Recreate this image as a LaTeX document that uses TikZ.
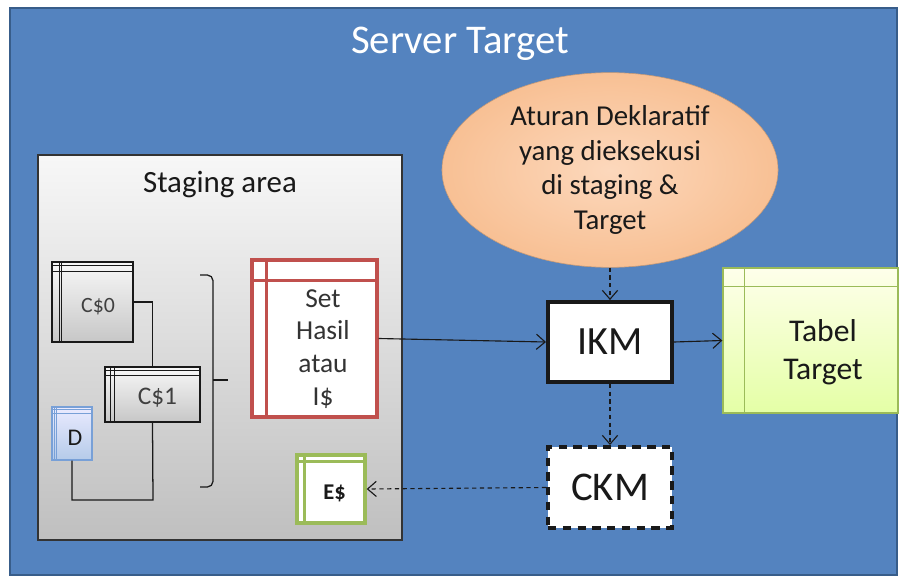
\documentclass[tikz,border=0pt]{standalone}
\usepackage{fontspec}
\setmainfont{Carlito}
\usetikzlibrary{arrows.meta, shapes.geometric, calc}

\definecolor{latarbiru}{RGB}{84,131,191}
\definecolor{tepibiru}{RGB}{56,93,138}
\definecolor{merah}{RGB}{192,80,77}
\definecolor{hijau}{RGB}{155,187,89}
\definecolor{birutepi}{RGB}{120,160,215}
\definecolor{persik}{RGB}{252,216,188}
\definecolor{persiktua}{RGB}{248,192,148}
\definecolor{tinta}{RGB}{25,25,25}

\tikzset{
  pijl/.style={-{Straight Barb[length=2.2mm, width=3.8mm]}, line width=0.8pt, draw=tinta},
  putus/.style={pijl, dash pattern=on 3pt off 2.5pt},
  tabelabu/.style={draw=tinta, line width=0.9pt, top color=black!3, bottom color=black!22},
  huruf/.style 2 args={font=\fontsize{#1}{#2}\selectfont, text=tinta, align=center}
}

% header row and header column of a table node
\newcommand{\kepala}[5]{%
  \draw[#4, line width=#5] ($(#1.north west)+(0,#2)$) -- ($(#1.north east)+(0,#2)$);
  \draw[#4, line width=#5] ($(#1.north west)+(#3,0)$) -- ($(#1.south west)+(#3,0)$);
}

\begin{document}
\begin{tikzpicture}[x=0.025cm, y=-0.025cm]
    \useasboundingbox (0,0) rectangle (900,578);
    \fill[white] (0,0) rectangle (900,578);

    % Blue server area
    \draw[tepibiru, fill=latarbiru, line width=0.8pt] (10,8) rectangle (897,575);
    \node[font=\fontsize{29}{34}\selectfont, text=white] (judul) at (460,44) {Server Target};

    % Staging area
    \node[draw=black!80, line width=0.9pt, top color=black!3, bottom color=black!25,
          minimum width=9.1cm, minimum height=9.625cm] (staging) at (220,347.5) {};
    \node[huruf={22}{26}] (stagingjudul) at (220,185) {Staging area};

    % Tables inside staging
    \node[tabelabu, minimum width=2.025cm, minimum height=2cm] (c0) at (92.5,302) {};
    \kepala{c0}{4}{8}{tinta}{0.6pt}
    \kepala{c0}{10}{10}{tinta}{0.9pt}
    \node[huruf={15.5}{18}, text=black!75] (c0teks) at (98,307) {C\$0};
    \node[tabelabu, minimum width=2.375cm, minimum height=1.375cm] (c1) at (152.5,394.5) {};
    \kepala{c1}{4}{6}{tinta}{0.6pt}
    \kepala{c1}{9}{10}{tinta}{0.9pt}
    \node[huruf={18}{21}, text=black!75] (c1teks) at (157.5,398) {C\$1};
    \node[draw=birutepi, line width=0.9pt, top color=blue!8, bottom color=birutepi!55,
          minimum width=1cm, minimum height=1.325cm] (d) at (72,433.5) {};
    \kepala{d}{3}{3}{birutepi}{0.5pt}
    \kepala{d}{7}{5}{birutepi}{0.5pt}
    \node[huruf={17}{20}] (dteks) at (75,438) {D};

    % Connections between the tables
    \coordinate (bawah) at (153,500);
    \draw[line width=0.9pt, tinta] (c0.east) -| (c1.north);
    \draw[line width=0.9pt, tinta] (c1.south) -- (bawah) -| (d.south);

    % Bracket
    \draw[line width=0.9pt, tinta, rounded corners=4pt] (200,275) -- (213,275) -- (213,487) -- (200,487);
    \draw[line width=0.9pt, tinta] (213,380) -- (228,380);

    % Result set
    \node[draw=merah, line width=2.4pt, fill=white, minimum width=3.125cm, minimum height=3.925cm] (hasil) at (314.5,338.5) {};
    \kepala{hasil}{22}{16}{merah}{2.4pt}
    \node[huruf={19.5}{23.4}, text=black!80] (hasilteks) at (323,349) {Set\\Hasil\\atau\\I\$};

    % Error table
    \node[draw=hijau, line width=2.4pt, fill=white, minimum width=1.7cm, minimum height=1.7cm] (es) at (331,489) {};
    \kepala{es}{8}{9}{hijau}{2pt}
    \node[font=\fontsize{16}{19}\selectfont\bfseries, text=tinta] (esteks) at (334.5,493) {E\$};

    % Declarative rules
    \node[ellipse, minimum width=8.4cm, minimum height=4cm, inner color=persik, outer color=persiktua,
          draw=persiktua!80!black, line width=0.4pt, huruf={20.5}{24.5}] (aturan) at (610,170)
          {Aturan Deklaratif\\yang dieksekusi\\di staging \&\\Target};

    % Knowledge modules
    \node[draw=tinta, line width=2.8pt, fill=white, minimum width=3.1cm, minimum height=2cm, huruf={28.5}{32}] (ikm) at (610,342) {IKM};
    \node[draw=tinta, line width=2.8pt, dash pattern=on 6pt off 4.5pt, fill=white,
          minimum width=3.1cm, minimum height=2.025cm, huruf={29}{32}] (ckm) at (610,487.5) {CKM};

    % Target table
    \node[draw=hijau, line width=0.9pt, top color=green!4!yellow!8, bottom color=green!30!yellow!35,
          minimum width=4.375cm, minimum height=3.625cm] (tabel) at (810.5,340.5) {};
    \kepala{tabel}{19}{22}{hijau}{0.9pt}
    \node[huruf={22.5}{27}] (tabelteks) at (823,352) {Tabel\\Target};

    % Arrows
    \draw[pijl] (hasil.east) -- (ikm.west);
    \draw[pijl] (ikm.east) -- (tabel.west);
    \draw[putus] (aturan.south) -- (ikm.north);
    \draw[putus] (ikm.south) -- (ckm.north);
    \draw[putus] (ckm.west) -- (es.east);

\end{tikzpicture}
\end{document}
